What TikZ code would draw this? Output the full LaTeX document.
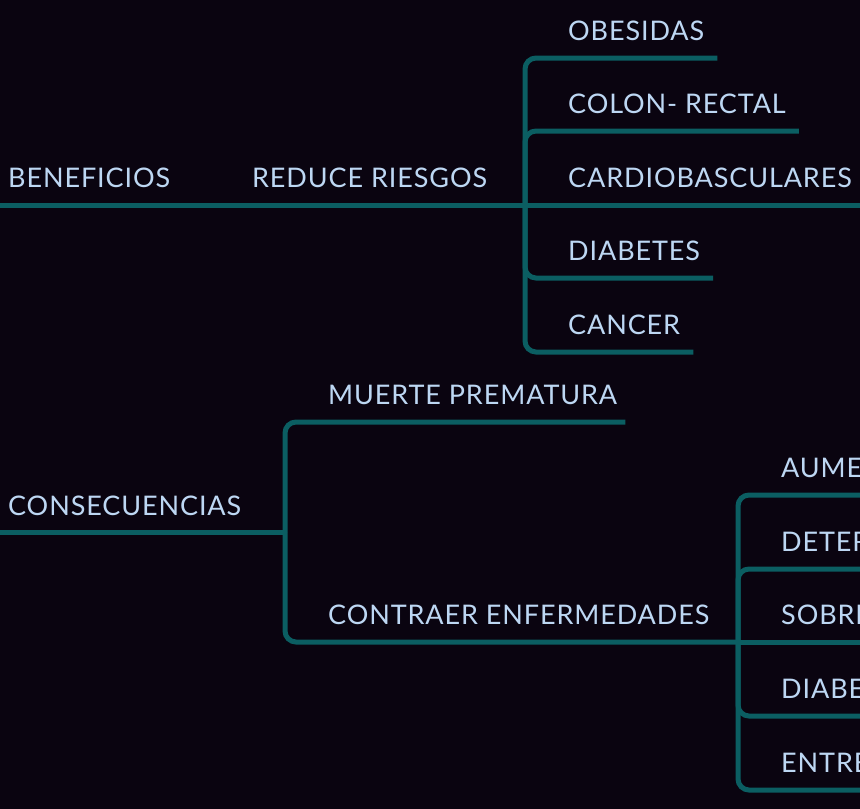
\documentclass[tikz,border=0pt]{standalone}
\usepackage{fontspec}
\setmainfont[LetterSpace=3.3]{Lato}
\usepackage{xcolor}
\usepackage{tikz}
\usetikzlibrary{calc}

\definecolor{bgdark}{HTML}{0A0410}
\definecolor{mapline}{HTML}{0B5E62}
\definecolor{maptext}{HTML}{BDD7F3}

\begin{document}
\begin{tikzpicture}[
x=1pt, y=-1pt,
topic/.style={anchor=base west, inner sep=0pt, text=maptext, font=\fontsize{27}{32}\selectfont},
branch/.style={draw=mapline, line width=5pt, rounded corners=11pt}
]
\useasboundingbox (0,0) rectangle (860,809);
\fill[bgdark] (0,0) rectangle (860,809);
\clip (0,0) rectangle (860,809);

% beneficios
\node[topic] (benef) at (8,187) {BENEFICIOS};
\node[topic] (reduce) at (252,187) {REDUCE RIESGOS};
\coordinate (benefStart) at (0,205);
\coordinate (reduceFork) at (525,205);
\node[topic] (obes) at (568,40) {OBESIDAS};
\node[topic] (colon) at (568,113) {COLON- RECTAL};
\node[topic] (cardio) at (568,187) {CARDIOBASCULARES};
\node[topic] (diab) at (568,260) {DIABETES};
\node[topic] (cancer) at (568,334) {CANCER};

\draw[branch] (benefStart) -- (reduceFork);
\foreach \leaf in {obes,colon,diab,cancer}
  \draw[branch] (reduceFork) |- ($(\leaf.base east)+(13,18)$);
\draw[branch] (reduceFork) -- ($(cardio.base east)+(20,18)$);

% consecuencias
\node[topic] (conse) at (8,515) {CONSECUENCIAS};
\coordinate (conseStart) at (0,532);
\coordinate (conseFork) at (285,532);
\node[topic] (muerte) at (328,404) {MUERTE PREMATURA};
\node[topic] (contraer) at (328,624) {CONTRAER ENFERMEDADES};
\coordinate (contraerFork) at (738,642);
\node[topic] (aume) at (781,477) {AUMENTO};
\node[topic] (deter) at (781,551) {DETERIORO};
\node[topic] (sobre) at (781,624) {SOBREPESO};
\node[topic] (diabe) at (781,698) {DIABETES};
\node[topic] (entre) at (781,772) {ENTRE OTRAS};

\draw[branch] (conseStart) -- (conseFork);
\draw[branch] (conseFork) |- ($(muerte.base east)+(8,18)$);
\draw[branch] (conseFork) |- (contraerFork);
\foreach \leaf in {aume,deter,diabe,entre}
  \draw[branch] (contraerFork) |- ($(\leaf.base east)+(13,18)$);
\draw[branch] (contraerFork) -- ($(sobre.base east)+(13,18)$);
\end{tikzpicture}
\end{document}
